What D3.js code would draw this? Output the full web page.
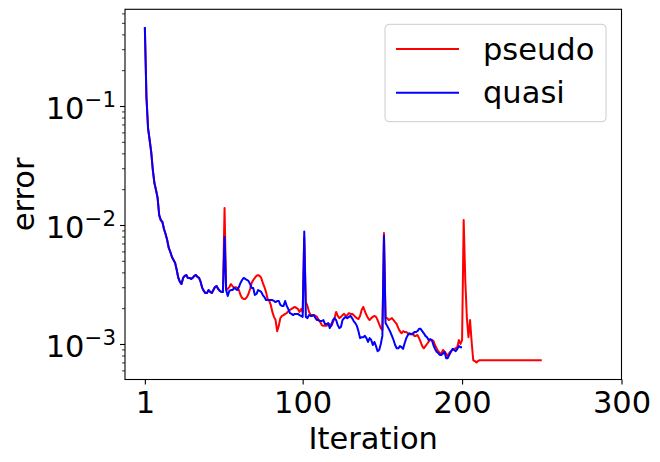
<!DOCTYPE html>
<html>
<head>
<meta charset="utf-8">
<script src="https://cdn.jsdelivr.net/npm/d3@7"></script>
<style>
  body { margin: 0; background: #fff; }
  svg text { font-family: "DejaVu Sans", sans-serif; fill: #000; }
</style>
</head>
<body>
<div id="chart"></div>
<script>
// error per iteration (iteration = index + 1)
var quasi = [
  0.46, 0.119, 0.0653, 0.0518, 0.041, 0.029, 0.0225, 0.0197, 0.0169, 0.0121,
  0.011, 0.0106, 0.00925, 0.0084, 0.00748, 0.00641, 0.00593, 0.00538, 0.00508, 0.0048,
  0.00419, 0.00359, 0.00332, 0.00319, 0.00359, 0.00373, 0.0038, 0.00359, 0.00359, 0.00352,
  0.00359, 0.00373, 0.0038, 0.00366, 0.00359, 0.00332, 0.00296, 0.00279, 0.00268, 0.00268,
  0.00284, 0.00274, 0.00268, 0.00284, 0.00301, 0.00307, 0.0029, 0.00279, 0.00274, 0.00274,
  0.00792, 0.00284, 0.00253, 0.00279, 0.00284, 0.00284, 0.00296, 0.0029, 0.00284, 0.00301,
  0.00326, 0.00345, 0.00359, 0.00352, 0.00345, 0.00339, 0.00319, 0.00296, 0.00296, 0.00258,
  0.00263, 0.00284, 0.00279, 0.00274, 0.00258, 0.00248, 0.00234, 0.00234, 0.00234, 0.00234,
  0.00234, 0.0023, 0.00225, 0.0023, 0.0023, 0.00213, 0.00209, 0.00209, 0.0023, 0.00209,
  0.00197, 0.00182, 0.00179, 0.00175, 0.00179, 0.00179, 0.00179, 0.00175, 0.00172, 0.00169,
  0.0088, 0.00169, 0.00165, 0.00175, 0.00172, 0.00172, 0.00175, 0.00165, 0.00159, 0.00159,
  0.00156, 0.00156, 0.00159, 0.00147, 0.00147, 0.0015, 0.00136, 0.00144, 0.00159, 0.00165,
  0.00159, 0.00144, 0.00136, 0.00139, 0.00159, 0.00165, 0.00169, 0.00165, 0.00169, 0.00172,
  0.00165, 0.00156, 0.0015, 0.00142, 0.00128, 0.00112, 0.00114, 0.00114, 0.00117, 0.00112,
  0.00104, 0.00112, 0.00108, 0.00098, 0.00104, 0.00096, 0.00087, 0.00089, 0.001, 0.00117,
  0.00809, 0.0015, 0.00142, 0.00134, 0.00126, 0.00117, 0.00108, 0.00098, 0.00092, 0.00092,
  0.00096, 0.00094, 0.00091, 0.00102, 0.00112, 0.00119, 0.00123, 0.00121, 0.00121, 0.00126,
  0.00126, 0.00128, 0.00134, 0.00134, 0.00128, 0.00123, 0.00117, 0.00114, 0.00108, 0.0011,
  0.00108, 0.00098, 0.00091, 0.00086, 0.00084, 0.00081, 0.00081, 0.00083, 0.00086, 0.00076,
  0.00076, 0.00081, 0.00086, 0.00091, 0.00089, 0.00087, 0.00091, 0.00096, 0.00094, 0.00094
]

var pseudo = [
  0.46, 0.119, 0.0653, 0.0518, 0.041, 0.029, 0.0225, 0.0197, 0.0169, 0.0121,
  0.011, 0.0106, 0.00925, 0.0084, 0.00748, 0.00641, 0.00593, 0.00538, 0.00508, 0.0048,
  0.00419, 0.00359, 0.00332, 0.00319, 0.00359, 0.00373, 0.0038, 0.00359, 0.00359, 0.00352,
  0.00359, 0.00373, 0.0038, 0.00366, 0.00359, 0.00332, 0.00296, 0.00279, 0.00268, 0.00268,
  0.00284, 0.00274, 0.00268, 0.00284, 0.00301, 0.00307, 0.0029, 0.00279, 0.00274, 0.00274,
  0.0139, 0.00284, 0.0029, 0.00301, 0.00319, 0.00307, 0.00296, 0.00301, 0.00296, 0.00284,
  0.00258, 0.00244, 0.00239, 0.00239, 0.00248, 0.00263, 0.0029, 0.00326, 0.00345, 0.00359,
  0.00373, 0.0038, 0.00373, 0.00359, 0.00326, 0.00301, 0.00274, 0.00239, 0.0023, 0.00213,
  0.00186, 0.00169, 0.00159, 0.00128, 0.00142, 0.00165, 0.00172, 0.00175, 0.00179, 0.00182,
  0.00189, 0.00193, 0.00197, 0.00201, 0.00205, 0.00201, 0.00197, 0.00186, 0.00197, 0.00186,
  0.00776, 0.00225, 0.00209, 0.00186, 0.00175, 0.00175, 0.00175, 0.00172, 0.00169, 0.00159,
  0.00153, 0.00144, 0.00142, 0.00142, 0.00142, 0.00147, 0.00147, 0.00142, 0.00153, 0.00165,
  0.00186, 0.00172, 0.00165, 0.00169, 0.00175, 0.00179, 0.00172, 0.00175, 0.00182, 0.00179,
  0.00179, 0.00175, 0.00169, 0.00165, 0.00162, 0.00172, 0.00193, 0.00205, 0.00189, 0.00175,
  0.00165, 0.00159, 0.00165, 0.00169, 0.00172, 0.00169, 0.00159, 0.00147, 0.00136, 0.00131,
  0.00857, 0.00165, 0.00165, 0.00159, 0.00162, 0.00165, 0.00159, 0.00153, 0.00147, 0.00136,
  0.00128, 0.00123, 0.00128, 0.00126, 0.00126, 0.00123, 0.00121, 0.00121, 0.00123, 0.00117,
  0.00117, 0.00119, 0.00112, 0.00104, 0.00096, 0.00092, 0.00096, 0.001, 0.00104, 0.00108,
  0.00108, 0.00106, 0.00098, 0.00092, 0.00087, 0.00084, 0.00083, 0.00089, 0.00086, 0.00083,
  0.00079, 0.00084, 0.00087, 0.00089, 0.00091, 0.00092, 0.00094, 0.00108, 0.001, 0.00108,
  0.011, 0.00345, 0.00165, 0.00114, 0.00159, 0.00104, 0.00073, 0.00072, 0.0007, 0.00072,
  0.00073, 0.00073, 0.00073, 0.00073, 0.00073, 0.00073, 0.00073, 0.00073, 0.00073, 0.00073,
  0.00073, 0.00073, 0.00073, 0.00073, 0.00073, 0.00073, 0.00073, 0.00073, 0.00073, 0.00073,
  0.00073, 0.00073, 0.00073, 0.00073, 0.00073, 0.00073, 0.00073, 0.00073, 0.00073, 0.00073,
  0.00073, 0.00073, 0.00073, 0.00073, 0.00073, 0.00073, 0.00073, 0.00073, 0.00073, 0.00073
]

var xTicks = [1, 100, 200, 300]
var yTicks = [1e-3, 1e-2, 1e-1]
var yExponents = ["\u22123", "\u22122", "\u22121"]

var series = [
  {name: "pseudo", color: "#ff0000", values: pseudo},
  {name: "quasi", color: "#0000ff", values: quasi}
]

var margin = {top: 9.3, left: 125, right: 38.5, bottom: 82.5}
var W = 660, H = 462
var width = W - margin.left - margin.right
var height = H - margin.top - margin.bottom
var fs = 30.5

var svg = d3.select("#chart")
  .append("svg")
  .attr("width", W)
  .attr("height", H)
  .append("g")
  .attr("transform", "translate(" + margin.left + "," + margin.top + ")")

var x = d3.scaleLinear()
  .domain([-11.45, 300])
  .range([0, width])

var y = d3.scaleLog()
  .domain([5.03e-4, 0.6497])
  .range([height, 0])

// lines
var line = d3.line()
  .x(function(d, i) { return x(i + 1) })
  .y(function(d) { return y(d) })

svg.selectAll(".series")
  .data(series)
  .enter()
  .append("path")
  .attr("class", "series")
  .attr("fill", "none")
  .attr("stroke", d => d.color)
  .attr("stroke-width", 2)
  .attr("stroke-linejoin", "round")
  .attr("d", d => line(d.values))

// frame
svg.append("rect")
  .attr("width", width)
  .attr("height", height)
  .attr("fill", "none")
  .attr("stroke", "#000")
  .attr("stroke-width", 1.1)

// x axis
var gx = svg.append("g")
  .attr("transform", "translate(0," + height + ")")
  .call(d3.axisBottom(x).tickValues(xTicks).tickSize(5).tickPadding(7))
gx.select(".domain").remove()
gx.selectAll("line").attr("stroke-width", 1.1)
gx.selectAll("text").style("font-size", fs + "px").attr("font-family", null)

// y minor ticks
var minor = y.ticks().filter(v => yTicks.indexOf(v) < 0 && Math.abs(Math.log10(v) % 1) > 1e-6)
var gm = svg.append("g")
  .call(d3.axisLeft(y).tickValues(minor).tickSize(3).tickFormat(""))
gm.select(".domain").remove()
gm.selectAll("line").attr("stroke-width", 0.8)

// y major ticks
var gy = svg.append("g")
  .call(d3.axisLeft(y).tickValues(yTicks).tickSize(5).tickFormat(""))
gy.select(".domain").remove()
gy.selectAll("line").attr("stroke-width", 1.1)
gy.selectAll(".tick text").remove()
gy.selectAll(".tick").each(function(d, i) {
  var t = d3.select(this).append("text")
    .attr("x", -9)
    .attr("y", 12.5)
    .attr("text-anchor", "end")
    .style("font-size", fs + "px")
  t.append("tspan").text("10")
  t.append("tspan")
    .attr("dy", -12)
    .style("font-size", (fs * 0.7) + "px")
    .text(yExponents[i])
})

// axis labels
svg.append("text")
  .attr("x", width / 2)
  .attr("y", 449 - margin.top)
  .attr("text-anchor", "middle")
  .style("font-size", fs + "px")
  .text("Iteration")

svg.append("text")
  .attr("transform", "translate(" + (33.5 - margin.left) + "," + (height / 2) + ") rotate(-90)")
  .attr("text-anchor", "middle")
  .style("font-size", fs + "px")
  .text("error")

// legend
var lg = svg.append("g")
  .attr("transform", "translate(" + (385 - margin.left) + "," + (24.3 - margin.top) + ")")

lg.append("rect")
  .attr("width", 221)
  .attr("height", 97.4)
  .attr("rx", 4)
  .attr("fill", "#fff")
  .attr("fill-opacity", 0.8)
  .attr("stroke", "#cccccc")
  .attr("stroke-width", 1)

var item = lg.selectAll(".legend-item")
  .data(series)
  .enter()
  .append("g")
  .attr("class", "legend-item")
  .attr("transform", (d, i) => "translate(0," + (24.7 + i * 43.7) + ")")

item.append("line")
  .attr("x1", 11)
  .attr("x2", 74)
  .attr("stroke", d => d.color)
  .attr("stroke-width", 2)

item.append("text")
  .attr("x", 98)
  .attr("y", 10.5)
  .style("font-size", fs + "px")
  .text(d => d.name)
</script>
</body>
</html>
